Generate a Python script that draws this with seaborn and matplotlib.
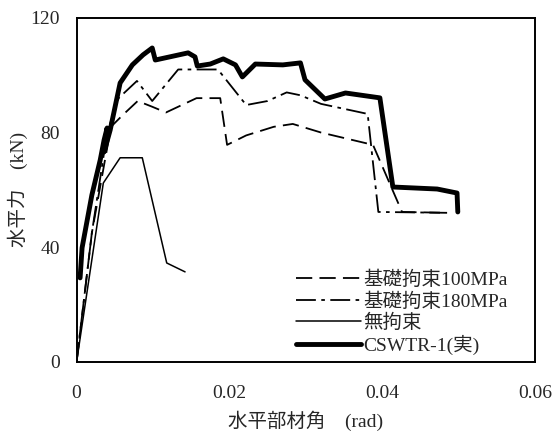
import matplotlib
matplotlib.use("Agg")
import matplotlib.pyplot as plt
import seaborn as sns

# 基礎拘束100MPa (analysis)
x_100 = [0, 0.0020, 0.0045, 0.0060, 0.0080, 0.0099, 0.0117, 0.0157, 0.0188, 0.0197,
         0.0222, 0.0258, 0.0283, 0.0320, 0.0388, 0.0426, 0.0485]
y_100 = [0, 45, 82, 86, 91, 89, 87, 92, 92, 75.7,
         79, 82, 83, 80, 75.7, 52.3, 52]

# 基礎拘束180MPa (analysis)
x_180 = [0, 0.0020, 0.0040, 0.0055, 0.0079, 0.0099, 0.0133, 0.0185, 0.0222, 0.0250,
         0.0275, 0.0293, 0.0320, 0.0381, 0.0395, 0.0485]
y_180 = [0, 45, 80, 92, 98, 91, 102, 102, 89.6, 91,
         94, 93, 90, 86.5, 52.3, 52]

# 無拘束 (analysis)
x_free = [0, 0.0035, 0.0057, 0.0086, 0.0118, 0.0142]
y_free = [0, 62.4, 71.2, 71.2, 34.5, 31.4]

# CSWTR-1 (実) experiment envelope
x_exp = [0.00046, 0.00072, 0.0020, 0.0031, 0.0036, 0.0040, 0.0036, 0.0044, 0.0057, 0.0073,
         0.0087, 0.0099, 0.0103, 0.0122, 0.0146, 0.0155, 0.0158, 0.0175, 0.0192, 0.0208,
         0.0217, 0.0234, 0.0270, 0.0293, 0.0299, 0.0325, 0.0352, 0.0397, 0.0414, 0.0472,
         0.0498, 0.0499]
y_exp = [29.3, 39.8, 58.2, 70.5, 77.4, 81.6, 73.2, 80.9, 97.3, 103.6,
         107.1, 109.5, 105.3, 106.4, 107.8, 106.4, 103.2, 103.9, 105.7, 103.6,
         99.4, 103.9, 103.6, 104.3, 98.4, 91.7, 93.8, 92.1, 61.0, 60.3,
         58.9, 52.3]

series_labels = ["基礎拘束100MPa", "基礎拘束180MPa", "無拘束", "CSWTR-1(実)"]
x_ticks = [0, 0.02, 0.04, 0.06]
x_tick_labels = ["0", "0.02", "0.04", "0.06"]
y_ticks = [0, 40, 80, 120]

sns.set_style("white")
plt.rcParams['font.family'] = ['Liberation Serif', 'Noto Sans CJK JP']

fig = plt.figure(figsize=(5.59, 4.36), dpi=100)
ax = fig.add_axes([0.137, 0.170, 0.820, 0.789])

sns.lineplot(x=x_100, y=y_100, sort=False, estimator=None, ax=ax, color='black',
             lw=1.3, linestyle=(0, (9, 4)), label=series_labels[0])
sns.lineplot(x=x_180, y=y_180, sort=False, estimator=None, ax=ax, color='black',
             lw=1.3, linestyle=(0, (11, 3, 2, 3)), label=series_labels[1])
sns.lineplot(x=x_free, y=y_free, sort=False, estimator=None, ax=ax, color='black',
             lw=1.1, label=series_labels[2])
sns.lineplot(x=x_exp, y=y_exp, sort=False, estimator=None, ax=ax, color='black',
             lw=3.5, label=series_labels[3], solid_capstyle='round', solid_joinstyle='round')

ax.set_xlim(0, 0.06)
ax.set_ylim(0, 120)
ax.set_xticks(x_ticks)
ax.set_xticklabels(x_tick_labels)
ax.set_yticks(y_ticks)
ax.tick_params(direction='in', length=5, width=0.8, labelsize=14)
ax.tick_params(axis='x', pad=17)
ax.tick_params(axis='y', pad=12)
for s in ax.spines.values():
    s.set_linewidth(1.4)
    s.set_color('black')

ax.set_xlabel("水平部材角\u3000(rad)", fontsize=14, labelpad=6)
ax.set_ylabel("水平力\u3000(kN)", fontsize=14, labelpad=2)

leg = ax.legend(loc='lower right', bbox_to_anchor=(0.945, 0.015), frameon=False,
                fontsize=14, handlelength=3.3, handletextpad=0.15,
                labelspacing=0.15, borderaxespad=0, borderpad=0.1)

fig.savefig("out.png", dpi=100)
